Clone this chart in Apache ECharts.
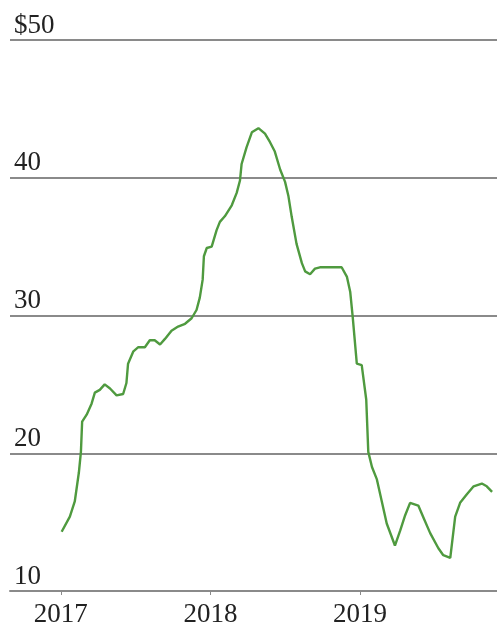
<!DOCTYPE html>
<html>
<head>
<meta charset="utf-8">
<script src="https://cdn.jsdelivr.net/npm/echarts@6/dist/echarts.min.js"></script>
<style>
  html, body { margin: 0; padding: 0; background: #fff; }
  #chart { width: 497px; height: 631px; }
</style>
</head>
<body>
<div id="chart"></div>
<script>
// price line
var dates = [
  '2017-01-03','2017-01-23','2017-02-04','2017-02-14','2017-02-19','2017-02-22','2017-03-05','2017-03-17',
  '2017-03-25','2017-04-06','2017-04-18','2017-05-01','2017-05-17','2017-06-02','2017-06-10','2017-06-14',
  '2017-06-27','2017-07-09','2017-07-25','2017-08-06','2017-08-18','2017-08-31','2017-09-12','2017-09-28',
  '2017-10-14','2017-10-31','2017-11-16','2017-11-28','2017-12-06','2017-12-13','2017-12-16','2017-12-23',
  '2018-01-04','2018-01-16','2018-01-24','2018-02-05','2018-02-22','2018-03-06','2018-03-14','2018-03-18',
  '2018-03-30','2018-04-12','2018-04-28','2018-05-14','2018-05-26','2018-06-07','2018-06-20','2018-07-02',
  '2018-07-10','2018-07-18','2018-07-30','2018-08-12','2018-08-20','2018-09-01','2018-09-13','2018-09-25',
  '2018-11-17','2018-11-30','2018-12-08','2018-12-14','2018-12-24','2019-01-05','2019-01-16','2019-01-21',
  '2019-01-30','2019-02-11','2019-02-23','2019-03-07','2019-03-27','2019-04-09','2019-04-21','2019-05-03',
  '2019-05-23','2019-06-05','2019-06-21','2019-07-11','2019-07-23','2019-08-09','2019-08-21','2019-09-02',
  '2019-09-18','2019-10-05','2019-10-25','2019-11-06','2019-11-19'
];
var prices = [
  14.3, 15.4, 16.5, 18.6, 20.1, 22.3, 22.8, 23.6,
  24.4, 24.6, 25.0, 24.7, 24.2, 24.3, 25.1, 26.5,
  27.4, 27.7, 27.7, 28.2, 28.2, 27.9, 28.3, 28.9,
  29.2, 29.4, 29.8, 30.4, 31.3, 32.6, 34.3, 34.9,
  35.0, 36.2, 36.8, 37.2, 38.0, 38.9, 39.8, 41.0,
  42.2, 43.3, 43.6, 43.2, 42.6, 41.9, 40.6, 39.7,
  38.7, 37.2, 35.2, 33.8, 33.2, 33.0, 33.4, 33.5,
  33.5, 32.8, 31.7, 29.9, 26.5, 26.4, 23.9, 20.1,
  19.0, 18.1, 16.5, 14.9, 13.3, 14.4, 15.5, 16.4,
  16.2, 15.3, 14.2, 13.1, 12.6, 12.4, 15.4, 16.4,
  17.0, 17.6, 17.8, 17.6, 17.2
];
var yearTicks = ['2017-01-01', '2018-01-01', '2019-01-01'];
var yTicks = [10, 20, 30, 40, 50];

function ts(d) { return echarts.number.parseDate(d).getTime(); }
var yearValues = yearTicks.map(ts);

var myChart = echarts.init(document.getElementById('chart'));
var option = {
  animation: false,
  grid: { left: 10, right: 0, top: 40, bottom: 40 },
  xAxis: {
    type: 'value',
    min: ts('2016-08-30'),
    max: ts('2019-12-01'),
    axisLine: { show: true, lineStyle: { color: '#8a8a8a', width: 2 } },
    axisTick: { show: true, customValues: yearValues, length: 4, lineStyle: { color: '#8a8a8a', width: 1 } },
    axisLabel: {
      customValues: yearValues,
      formatter: function (v) { return String(new Date(v).getFullYear()); },
      fontFamily: 'Liberation Serif',
      fontSize: 27,
      color: '#222',
      margin: 10
    },
    splitLine: { show: false }
  },
  yAxis: {
    type: 'value',
    min: yTicks[0],
    max: yTicks[yTicks.length - 1],
    interval: 10,
    axisLine: { show: false },
    axisTick: { show: false },
    axisLabel: {
      inside: true,
      align: 'left',
      verticalAlign: 'bottom',
      margin: 4,
      padding: [0, 0, 1, 0],
      fontFamily: 'Liberation Serif',
      fontSize: 27,
      color: '#222',
      formatter: function (v) { return v === 50 ? '$50' : String(v); }
    },
    splitLine: { show: true, lineStyle: { color: '#8a8a8a', width: 2 } }
  },
  series: [
    {
      type: 'line',
      data: dates.map(function (d, i) { return [ts(d), prices[i]]; }),
      showSymbol: false,
      lineStyle: { color: '#4f9a3f', width: 2.4 },
      z: 5
    }
  ]
};
myChart.setOption(option);
</script>
</body>
</html>
